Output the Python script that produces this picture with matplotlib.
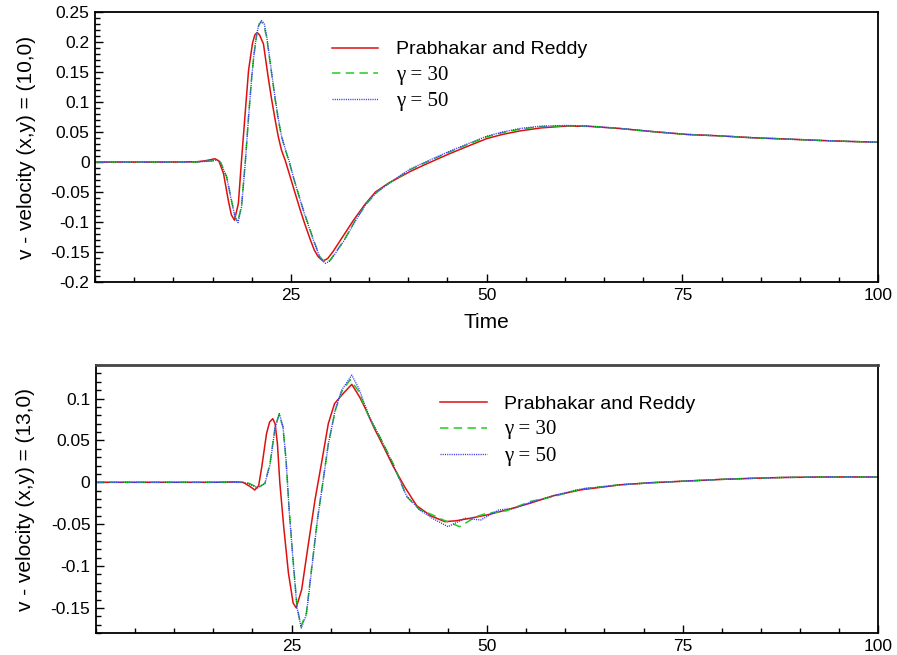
import matplotlib
matplotlib.use("Agg")
import matplotlib.pyplot as plt
from matplotlib.ticker import MultipleLocator, FixedLocator, FuncFormatter

plt.rcParams['font.family'] = ['Liberation Sans', 'DejaVu Sans']

# ---- data ----
# top panel: probe (10,0)
t_top_pr = [0, 5, 10, 13, 14, 14.8, 15.3, 15.8, 16.4, 17.0, 17.4, 17.8, 18.3, 18.7, 19.2, 19.6,
            20.1, 20.4, 20.7, 21.0, 21.5, 22.1, 22.5, 23.0, 23.4, 23.8, 24.3, 24.9, 25.5, 26.2,
            26.8, 27.5, 28.0, 28.5, 29.1, 29.7, 30.4, 31.5, 33.0, 34.5, 35.8, 37.5, 40.2, 42.0,
            45.1, 47.9, 50.0, 52.0, 54.3, 57.0, 60.2, 63.0, 67.0, 71.0, 75.6, 80.0, 84.0, 88.0,
            92.6, 96.0, 100]
v_top_pr = [0, 0, 0, 0.0005, 0.002, 0.004, 0.0055, 0.002, -0.019, -0.063, -0.088, -0.097, -0.069,
            0.003, 0.087, 0.153, 0.198, 0.212, 0.216, 0.212, 0.197, 0.142, 0.108, 0.07, 0.042,
            0.02, 0.002, -0.024, -0.05, -0.08, -0.104, -0.13, -0.147, -0.158, -0.165, -0.161,
            -0.149, -0.127, -0.097, -0.07, -0.05, -0.035, -0.016, -0.005, 0.013, 0.028, 0.039,
            0.046, 0.052, 0.057, 0.06, 0.0595, 0.056, 0.051, 0.046, 0.0435, 0.0405, 0.0385,
            0.036, 0.0345, 0.033]

t_top_g30 = [0, 5, 10, 13, 14, 15.0, 15.5, 16.0, 16.8, 17.5, 17.9, 18.2, 18.7, 19.2, 19.6, 20.0,
             20.3, 20.6, 20.9, 21.2, 21.5, 21.9, 22.6, 23.0, 23.4, 23.8, 24.3, 24.8, 25.3, 26.0,
             26.6, 27.3, 27.9, 28.7, 29.4, 30.0, 30.65, 31.8, 33.2, 34.6, 36.0, 37.8, 40.2, 42.0,
             45.1, 47.9, 50.0, 52.0, 54.3, 57.0, 60.2, 63.0, 67.0, 71.0, 75.6, 80.0, 84.0, 88.0,
             92.6, 96.0, 100]
v_top_g30 = [0, 0, 0, 0.0, 0.001, 0.002, 0.003, 0.0, -0.0245, -0.069, -0.092, -0.1, -0.074, 0.003,
             0.076, 0.142, 0.18, 0.209, 0.228, 0.234, 0.23, 0.209, 0.142, 0.104, 0.07, 0.043,
             0.02, 0.0, -0.0245, -0.055, -0.08, -0.107, -0.13, -0.158, -0.168, -0.164, -0.152,
             -0.13, -0.098, -0.07, -0.05, -0.033, -0.013, -0.002, 0.016, 0.031, 0.042, 0.049,
             0.055, 0.059, 0.0605, 0.06, 0.056, 0.051, 0.046, 0.0435, 0.0405, 0.0385, 0.036,
             0.0345, 0.033]

t_top_g50 = [0, 5, 10, 13, 14, 15.0, 15.5, 16.0, 16.8, 17.5, 17.9, 18.25, 18.7, 19.2, 19.6, 20.0,
             20.3, 20.6, 20.9, 21.25, 21.6, 21.9, 22.6, 23.0, 23.4, 23.8, 24.3, 24.8, 25.3, 26.0,
             26.6, 27.3, 27.9, 28.7, 29.4, 30.0, 30.65, 31.8, 33.2, 34.6, 36.0, 37.8, 40.2, 42.0,
             45.1, 47.9, 50.0, 52.0, 54.3, 57.0, 60.2, 63.0, 67.0, 71.0, 75.6, 80.0, 84.0, 88.0,
             92.6, 96.0, 100]
v_top_g50 = [0, 0, 0, 0.0, 0.001, 0.002, 0.0035, 0.0, -0.025, -0.07, -0.093, -0.101, -0.075, 0.002,
             0.075, 0.141, 0.18, 0.21, 0.229, 0.236, 0.231, 0.211, 0.144, 0.106, 0.072, 0.044,
             0.021, 0.001, -0.024, -0.055, -0.081, -0.108, -0.131, -0.159, -0.169, -0.165, -0.153,
             -0.131, -0.099, -0.07, -0.05, -0.033, -0.012, -0.001, 0.017, 0.032, 0.043, 0.05,
             0.056, 0.06, 0.061, 0.06, 0.056, 0.051, 0.046, 0.0435, 0.0405, 0.0385, 0.036,
             0.0345, 0.033]

# bottom panel: probe (13,0)
t_bot_pr = [0, 5, 10, 15, 18.0, 18.8, 19.7, 20.3, 20.8, 21.2, 21.8, 22.2, 22.6, 22.9, 23.2, 23.5,
            24.0, 24.6, 25.2, 25.6, 26.3, 27.1, 28.0, 28.9, 29.7, 30.5, 31.6, 32.7, 33.7, 34.5,
            35.5, 36.8, 38.0, 39.5, 41.0, 42.8, 44.6, 46.0, 47.8, 50.0, 52.5, 55.5, 58.5, 62.0,
            67.0, 71.0, 75.5, 80.0, 84.0, 88.0, 92.6, 96.0, 100]
v_bot_pr = [0, 0, 0, 0, 0.0005, 0.0, -0.005, -0.0092, -0.004, 0.0186, 0.058, 0.072, 0.076, 0.07,
            0.046, 0.0, -0.053, -0.108, -0.144, -0.15, -0.128, -0.077, -0.021, 0.0265, 0.07,
            0.094, 0.106, 0.117, 0.102, 0.087, 0.066, 0.042, 0.019, -0.006, -0.028, -0.04,
            -0.047, -0.046, -0.043, -0.039, -0.033, -0.025, -0.016, -0.009, -0.003, -0.0005,
            0.0015, 0.0035, 0.0048, 0.0058, 0.0063, 0.0064, 0.0063]

t_bot_g30 = [0, 5, 10, 15, 18.5, 19.5, 20.7, 21.6, 22.25, 22.9, 23.4, 23.9, 24.3, 24.7, 25.2,
             25.7, 26.2, 26.9, 27.6, 28.3, 29.0, 29.7, 30.6, 31.4, 32.5, 33.5, 35.0, 36.3, 38.0,
             39.7, 41.4, 42.8, 44.4, 46.5, 48.6, 50.0, 52.5, 55.5, 58.5, 62.0, 67.0, 71.0, 75.5,
             80.0, 84.0, 88.0, 92.6, 96.0, 100]
v_bot_g30 = [0, 0, 0, 0, 0.0, -0.001, -0.0064, -0.0012, 0.0226, 0.066, 0.081, 0.066, 0.0265,
             -0.033, -0.0925, -0.148, -0.172, -0.156, -0.1, -0.045, 0.0, 0.046, 0.086, 0.108,
             0.1226, 0.11, 0.076, 0.054, 0.022, -0.017, -0.033, -0.038, -0.045, -0.053, -0.041,
             -0.037, -0.034, -0.023, -0.017, -0.008, -0.003, -0.0005, 0.0015, 0.0035, 0.0048,
             0.0058, 0.0063, 0.0064, 0.0063]

t_bot_g50 = [0, 5, 10, 15, 18.5, 19.5, 20.7, 21.6, 22.25, 22.9, 23.45, 23.9, 24.3, 24.7, 25.2,
             25.7, 26.25, 26.9, 27.6, 28.3, 29.0, 29.7, 30.6, 31.4, 32.7, 33.6, 35.0, 36.3, 38.0,
             39.7, 41.4, 43.0, 45.0, 47.2, 49.2, 51.5, 53.5, 55.5, 58.5, 62.0, 67.0, 71.0, 75.5,
             80.0, 84.0, 88.0, 92.6, 96.0, 100]
v_bot_g50 = [0, 0, 0, 0, 0.0, -0.0015, -0.0066, -0.0015, 0.021, 0.065, 0.082, 0.067, 0.027,
             -0.034, -0.094, -0.15, -0.174, -0.158, -0.102, -0.046, -0.001, 0.045, 0.087, 0.11,
             0.128, 0.112, 0.077, 0.054, 0.021, -0.016, -0.033, -0.043, -0.053, -0.043, -0.045,
             -0.033, -0.031, -0.024, -0.016, -0.008, -0.003, -0.0005, 0.0015, 0.0035, 0.0048,
             0.0058, 0.0063, 0.0064, 0.0063]

label_text = ['Prabhakar and Reddy', 'γ = 30', 'γ = 50']

RED = '#dd1010'
GREEN = '#22cc22'
BLUE = '#3a3af0'


def fmt_y(v, pos):
    return '%g' % round(v, 4)


def style_axes(ax, ylim, ylabel):
    ax.set_xlim(0, 100)
    ax.set_ylim(*ylim)
    ax.xaxis.set_major_locator(FixedLocator([25, 50, 75, 100]))
    ax.xaxis.set_minor_locator(MultipleLocator(5))
    ax.yaxis.set_major_locator(MultipleLocator(0.05))
    ax.yaxis.set_minor_locator(MultipleLocator(0.01))
    ax.yaxis.set_major_formatter(FuncFormatter(fmt_y))
    ax.tick_params(which='both', direction='in', top=False, right=False,
                   labelsize=12.5, pad=4, width=1.0)
    ax.tick_params(which='major', length=6)
    ax.tick_params(which='minor', length=3.5)
    for s in ax.spines.values():
        s.set_linewidth(1.3)
    ax.set_ylabel(ylabel, fontsize=15)


fig = plt.figure(figsize=(8.97, 6.55), dpi=100)
ax1 = fig.add_axes([0.106, 0.5695, 0.873, 0.412])
ax2 = fig.add_axes([0.107, 0.0336, 0.872, 0.409])

for ax, data in ((ax1, [(t_top_pr, v_top_pr), (t_top_g30, v_top_g30), (t_top_g50, v_top_g50)]),
                 (ax2, [(t_bot_pr, v_bot_pr), (t_bot_g30, v_bot_g30), (t_bot_g50, v_bot_g50)])):
    (tr, vr), (tg, vg), (tb, vb) = data
    ax.plot(tr, vr, color=RED, lw=1.1, label=label_text[0])
    ax.plot(tg, vg, color=GREEN, lw=1.1, dashes=(5.5, 3.5), label=label_text[1])
    ax.plot(tb, vb, color=BLUE, lw=1.0, dashes=(0.8, 0.8), label=label_text[2])

style_axes(ax1, (-0.2, 0.25), 'v - velocity (x,y) = (10,0)')
style_axes(ax2, (-0.18, 0.14), 'v - velocity (x,y) = (13,0)')
ax1.yaxis.set_label_coords(-0.076, 0.5)
ax2.yaxis.set_label_coords(-0.078, 0.5)
ax1.set_xlabel('Time', fontsize=15)
ax1.xaxis.set_label_coords(0.5, -0.115)
ax2.spines['top'].set_color('#444444')
ax2.spines['top'].set_linewidth(2.0)

for ax, anchor in ((ax1, (0.302, 0.894)), (ax2, (0.44, 0.887))):
    leg = ax.legend(loc='upper left', bbox_to_anchor=anchor, frameon=False, fontsize=14,
                    handlelength=2.4, handletextpad=0.9, labelspacing=0.38,
                    borderpad=0, borderaxespad=0)
    for txt in leg.get_texts()[1:]:
        txt.set_fontfamily(['Liberation Serif', 'DejaVu Serif'])
        txt.set_fontsize(15)

fig.savefig('out.png', dpi=100)
